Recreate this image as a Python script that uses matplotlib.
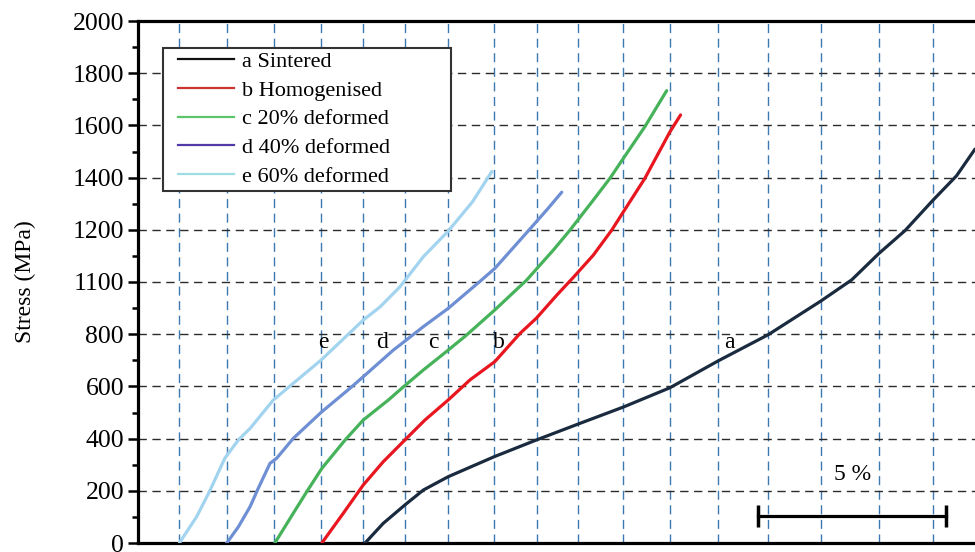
import matplotlib
matplotlib.use("Agg")
import matplotlib.pyplot as plt
from matplotlib.lines import Line2D
from matplotlib.patches import Rectangle
from matplotlib.ticker import MultipleLocator

plt.rcParams['font.family'] = ['Liberation Serif', 'DejaVu Serif']

# strain (%) and stress (MPa)
strain_a = [6.04, 6.52, 7.10, 7.59, 8.25, 9.48, 10.60, 11.71, 12.91, 14.15, 15.42,
            16.76, 18.16, 18.98, 19.71, 20.40, 21.14, 21.77, 22.26]
stress_a = [0, 75, 146, 203, 254, 331, 395, 456, 521, 595, 697,
            798, 927, 1008, 1110, 1197, 1313, 1407, 1509]

strain_b = [4.89, 5.46, 5.99, 6.52, 7.10, 7.63, 8.25, 8.83, 9.49, 10.16, 10.60,
            11.14, 11.58, 12.11, 12.60, 12.91, 13.48, 14.15, 14.43]
stress_b = [0, 114, 222, 311, 395, 471, 548, 625, 695, 803, 862,
            950, 1018, 1103, 1199, 1269, 1397, 1576, 1640]

strain_c = [3.64, 4.13, 4.49, 4.89, 5.51, 5.99, 6.66, 7.04, 7.59, 8.25, 8.74,
            9.49, 10.34, 11.05, 11.49, 12.11, 12.55, 12.91, 13.48, 14.06]
stress_c = [0, 114, 197, 286, 395, 471, 548, 596, 663, 739, 797,
            893, 1008, 1123, 1199, 1314, 1397, 1474, 1595, 1733]

strain_d = [2.36, 2.67, 2.98, 3.20, 3.51, 3.69, 4.13, 4.89, 5.64, 5.99, 6.79,
            6.97, 7.59, 8.25, 9.14, 9.49, 10.38, 10.87, 11.27]
stress_d = [0, 62, 139, 210, 305, 325, 401, 503, 593, 637, 739,
            759, 829, 899, 1008, 1052, 1196, 1276, 1344]

strain_e = [1.10, 1.56, 1.90, 2.31, 2.67, 2.98, 3.60, 4.87, 5.99, 6.44, 6.97,
            7.59, 8.25, 8.90, 9.41]
stress_e = [0, 101, 197, 325, 395, 439, 548, 701, 854, 905, 982,
            1097, 1195, 1308, 1423]

names = ["a Sintered", "b Homogenised", "c 20% deformed", "d 40% deformed", "e 60% deformed"]
tags = ["a", "b", "c", "d", "e"]
curve_colors = ["#1b2b3f", "#e8161e", "#46b25a", "#6e8fd3", "#a2d4f0"]
legend_colors = ["#111111", "#cc3333", "#5cc46a", "#5239a8", "#9edbe3"]

y_ticks = [0, 200, 400, 600, 800, 1000, 1200, 1400, 1600, 1800, 2000]
y_tick_labels = ["0", "200", "400", "600", "800", "1100", "1200", "1400", "1600", "1800", "2000"]

# graph-paper style vertical rulings (strain %)
grid_x = [1.09, 2.37, 3.62, 4.87, 5.98, 7.10, 8.24, 9.47, 10.61, 11.70, 12.90,
          14.15, 15.43, 16.76, 18.16, 19.71, 21.14]

fig = plt.figure(figsize=(9.75, 5.52), dpi=100)
ax = fig.add_axes([138 / 975, 9 / 552, 837 / 975, 522 / 552])

curves = [(strain_a, stress_a), (strain_b, stress_b), (strain_c, stress_c),
          (strain_d, stress_d), (strain_e, stress_e)]
for (xs, ys), col in zip(curves, curve_colors):
    ax.plot(xs, ys, color=col, lw=2.3, solid_capstyle='round',
            solid_joinstyle='round', zorder=3)

ax.set_xlim(0, 837 / 37.6)
ax.set_ylim(0, 2000)

ax.set_yticks(y_ticks)
ax.set_yticklabels(y_tick_labels)
ax.yaxis.set_minor_locator(MultipleLocator(100))
ax.tick_params(axis='y', which='major', direction='out', length=7, width=1.8,
               labelsize=18.5, pad=3)
ax.tick_params(axis='y', which='minor', direction='out', length=4, width=1.8)

ax.set_xticks(grid_x)
ax.tick_params(axis='x', length=0, labelbottom=False)

ax.grid(axis='y', which='major', color='#2b2b2b', linestyle=(0, (6, 4)), lw=1.0, zorder=1)
ax.grid(axis='x', which='major', color='#3d78b0', linestyle=(0, (6.5, 4)), lw=1.0, zorder=1)
ax.set_axisbelow(True)

for s in ['left', 'top', 'bottom']:
    ax.spines[s].set_linewidth(2.3)
ax.spines['right'].set_visible(False)

ax.set_ylabel("Stress (MPa)", fontsize=17, labelpad=26)

# curve tags
tag_x = [15.74, 9.60, 7.85, 6.48, 4.92]
for t, x in zip(tags, tag_x):
    ax.text(x, 770, t, fontsize=17, ha='center', va='center', zorder=4)

# 5 % scale bar
ax.plot([16.5, 21.5], [103, 103], color='black', lw=2.3, marker='|',
        markersize=16, markeredgewidth=2.5, zorder=4)
ax.text(19.0, 262, "5 %", fontsize=17, ha='center', va='center')

# legend box: drawn frame wider than its contents, as in the source figure
frame = Rectangle((0.0295, 0.6743), 0.3445, 0.2746, transform=ax.transAxes,
                  facecolor='white', edgecolor='#333333', lw=1.5, zorder=5)
ax.add_patch(frame)
handles = [Line2D([], [], color=c, lw=1.6) for c in legend_colors]
leg = ax.legend(handles, names, loc='upper left',
                bbox_to_anchor=(0.0478, 0.9418), borderaxespad=0, borderpad=0,
                fontsize=16, handlelength=2.5, handletextpad=0.4,
                labelspacing=0.37, frameon=False)
leg.set_zorder(6)

fig.savefig("out.png", dpi=100)
